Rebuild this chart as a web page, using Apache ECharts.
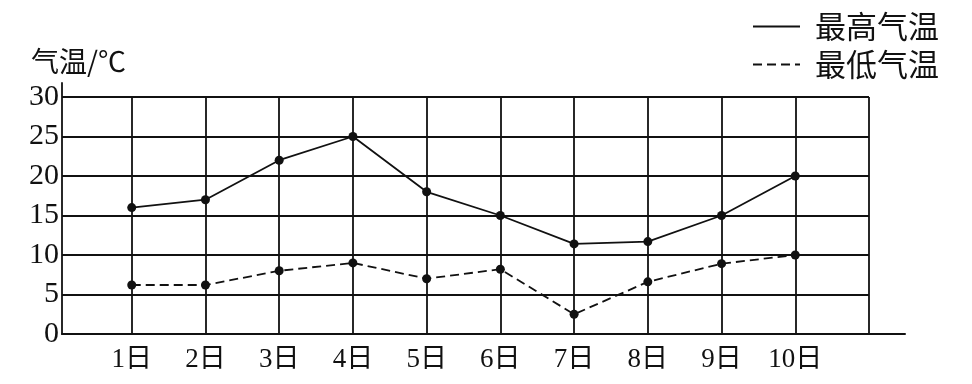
<!DOCTYPE html>
<html>
<head>
<meta charset="utf-8">
<script src="https://cdn.jsdelivr.net/npm/echarts@6/dist/echarts.min.js"></script>
<style>html,body{margin:0;padding:0;background:#fff;}#c{width:972px;height:384px;}</style>
</head>
<body>
<div id="c"></div>
<script>
var categories = ['1日','2日','3日','4日','5日','6日','7日','8日','9日','10日'];
var highTemps = [16, 17, 22, 25, 18, 15, 11.4, 11.7, 15, 20];
var lowTemps = [6.2, 6.2, 8, 9, 7, 8.2, 2.5, 6.6, 8.9, 10];
var yTicks = [0, 5, 10, 15, 20, 25, 30];
var seriesNames = ['最高气温', '最低气温'];

var FONT = "'Liberation Serif', 'Noto Sans CJK SC', serif";
var CJK_FONT = "'Noto Sans CJK SC', 'Liberation Serif', sans-serif";
var INK = '#111';
var LW = 1.8;

function pairs(vals) {
  return vals.map(function (v, i) { return [i + 1, v]; });
}

var chart = echarts.init(document.getElementById('c'));
chart.setOption({
  animation: false,
  backgroundColor: '#fff',
  title: {
    text: '气温/℃',
    left: 31,
    top: 47,
    padding: 0,
    textStyle: { fontFamily: CJK_FONT, fontSize: 28, fontWeight: 'normal', color: INK }
  },
  legend: {
    orient: 'vertical',
    right: 28,
    top: 6,
    itemWidth: 47,
    itemHeight: 2,
    itemGap: 7,
    itemStyle: { opacity: 0 },
    textStyle: { fontFamily: CJK_FONT, fontSize: 31, color: INK, padding: [0, 0, 0, 10] },
    data: seriesNames
  },
  grid: [
    { left: 58, right: 103, top: 97, bottom: 50 },
    { left: 62, right: 103, top: 83, bottom: 50 },
    { left: 62, right: 67, top: 83, bottom: 50 }
  ],
  xAxis: [
    {
      gridIndex: 0,
      type: 'value',
      min: 0,
      max: 11,
      interval: 1,
      axisLine: { show: false },
      axisTick: { show: false },
      axisLabel: {
        show: true,
        margin: 12,
        fontFamily: FONT,
        fontSize: 27,
        color: INK,
        formatter: function (v) {
          if (Math.abs(v - Math.round(v)) > 1e-6) return '';
          return categories[Math.round(v) - 1] || '';
        }
      },
      splitLine: { show: true, showMinLine: false, showMaxLine: true, lineStyle: { color: INK, width: LW } }
    },
    {
      gridIndex: 1,
      type: 'value',
      min: 0,
      max: 1,
      show: false
    },
    {
      gridIndex: 2,
      type: 'value',
      min: 0,
      max: 1,
      axisLine: { show: true, lineStyle: { color: INK, width: 2 } },
      axisTick: { show: false },
      axisLabel: { show: false },
      splitLine: { show: false }
    }
  ],
  yAxis: [
    {
      gridIndex: 0,
      type: 'value',
      min: 0,
      max: 30,
      interval: 5,
      show: false,
      splitLine: { show: false }
    },
    {
      gridIndex: 1,
      type: 'value',
      min: 0,
      max: 31.77,
      interval: 5,
      axisLine: { show: true, lineStyle: { color: INK, width: LW } },
      axisTick: { show: false },
      axisLabel: {
        margin: 3,
        fontFamily: FONT,
        fontSize: 30,
        color: INK,
        formatter: function (v) { return yTicks.indexOf(v) >= 0 ? String(v) : ''; }
      },
      splitLine: { show: true, showMinLine: false, showMaxLine: false, lineStyle: { color: INK, width: LW } }
    },
    {
      gridIndex: 2,
      type: 'value',
      min: 0,
      max: 1,
      show: false
    }
  ],
  series: [
    {
      name: seriesNames[0],
      type: 'line',
      xAxisIndex: 0,
      yAxisIndex: 0,
      data: pairs(highTemps),
      symbol: 'circle',
      symbolSize: 9,
      itemStyle: { color: INK },
      lineStyle: { color: INK, width: LW, type: 'solid' }
    },
    {
      name: seriesNames[1],
      type: 'line',
      xAxisIndex: 0,
      yAxisIndex: 0,
      data: pairs(lowTemps),
      symbol: 'circle',
      symbolSize: 9,
      itemStyle: { color: INK },
      lineStyle: { color: INK, width: LW, type: [9, 5] }
    }
  ]
});
</script>
</body>
</html>
